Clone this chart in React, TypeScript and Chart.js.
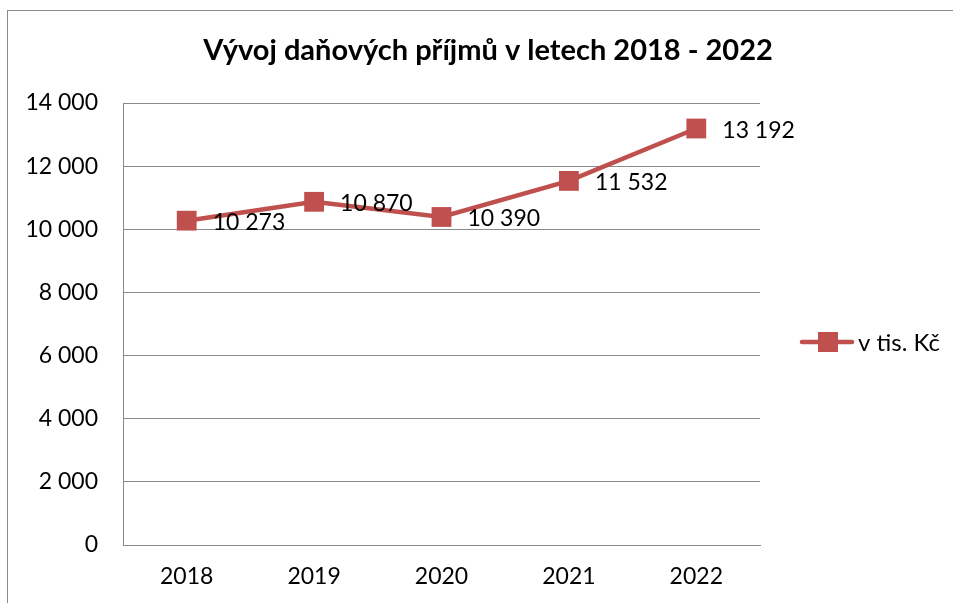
import React, { useEffect, useRef } from "react";
import { Chart, registerables } from "chart.js";

Chart.register(...registerables);

const titleText = "Vývoj daňových příjmů v letech 2018 - 2022";
const categories = ["2018", "2019", "2020", "2021", "2022"];
const seriesName = "v tis. Kč";
const values = [10273, 10870, 10390, 11532, 13192];
const yTicks = [0, 2000, 4000, 6000, 8000, 10000, 12000, 14000];

const FONT = "Lato, 'Open Sans', sans-serif";
const RED = "#C0504D";
const GRID = "#8a8a8a";

const fmt = (v: number) => {
  const s = Math.round(v).toString();
  return s.replace(/\B(?=(\d{3})+(?!\d))/g, " ");
};

const decorPlugin = {
  id: "decor",
  beforeDraw(chart: any) {
    const ctx = chart.ctx;
    ctx.save();
    ctx.strokeStyle = GRID;
    ctx.lineWidth = 1;
    ctx.strokeRect(7.5, 10.5, 1200, 1200);
    ctx.fillStyle = "#000";
    ctx.font = `bold 29px ${FONT}`;
    ctx.textAlign = "center";
    ctx.textBaseline = "middle";
    ctx.fillText(titleText, 488, 51);
    ctx.restore();
  },
  afterDatasetsDraw(chart: any) {
    const ctx = chart.ctx;
    const meta = chart.getDatasetMeta(0);
    ctx.save();
    ctx.fillStyle = "#000";
    ctx.font = `23px ${FONT}`;
    ctx.textAlign = "left";
    ctx.textBaseline = "middle";
    meta.data.forEach((pt: any, i: number) => {
      ctx.fillText(fmt(values[i]), pt.x + 26, pt.y + 2);
    });
    // legend
    const ly = 342;
    ctx.strokeStyle = RED;
    ctx.lineWidth = 4.5;
    ctx.lineCap = "round";
    ctx.beginPath();
    ctx.moveTo(802, ly);
    ctx.lineTo(852, ly);
    ctx.stroke();
    ctx.fillStyle = RED;
    ctx.fillRect(818, ly - 10, 20, 20);
    ctx.fillStyle = "#000";
    ctx.font = `24px ${FONT}`;
    ctx.fillText(seriesName, 858, ly + 1);
    ctx.restore();
  },
};

export default function App() {
  const ref = useRef<HTMLCanvasElement | null>(null);
  useEffect(() => {
    document.body.style.margin = "0";
    const chart = new Chart(ref.current as HTMLCanvasElement, {
      type: "line",
      data: {
        labels: categories,
        datasets: [
          {
            label: seriesName,
            data: values,
            borderColor: RED,
            backgroundColor: RED,
            borderWidth: 4.5,
            pointStyle: "rect",
            pointRadius: 14,
            pointBackgroundColor: RED,
            pointBorderColor: RED,
            pointBorderWidth: 0,
            tension: 0,
          },
        ],
      },
      options: {
        animation: false,
        responsive: false,
        layout: { padding: { top: 103, right: 193, bottom: 0, left: 0 } },
        plugins: {
          legend: { display: false },
          title: { display: false },
          tooltip: { enabled: false },
        },
        scales: {
          x: {
            offset: true,
            grid: { display: false, drawTicks: false },
            border: { display: true, color: GRID, width: 1 },
            ticks: { color: "#000", font: { family: FONT, size: 23 }, padding: 18 },
            afterFit(scale: any) {
              scale.height = 58;
            },
          },
          y: {
            min: 0,
            max: 14000,
            afterBuildTicks(scale: any) {
              scale.ticks = yTicks.map((v) => ({ value: v }));
            },
            grid: { color: GRID, lineWidth: 1, drawTicks: false },
            border: { display: true, color: GRID, width: 1 },
            ticks: {
              color: "#000",
              font: { family: FONT, size: 23 },
              padding: 25,
              callback: (v: any) => fmt(Number(v)),
            },
            afterFit(scale: any) {
              scale.width = 123;
            },
          },
        },
      },
      plugins: [decorPlugin],
    });
    return () => chart.destroy();
  }, []);
  return (
    <div style={{ width: 953, height: 603 }}>
      <canvas ref={ref} width={953} height={603} style={{ display: "block", width: 953, height: 603 }} />
    </div>
  );
}
